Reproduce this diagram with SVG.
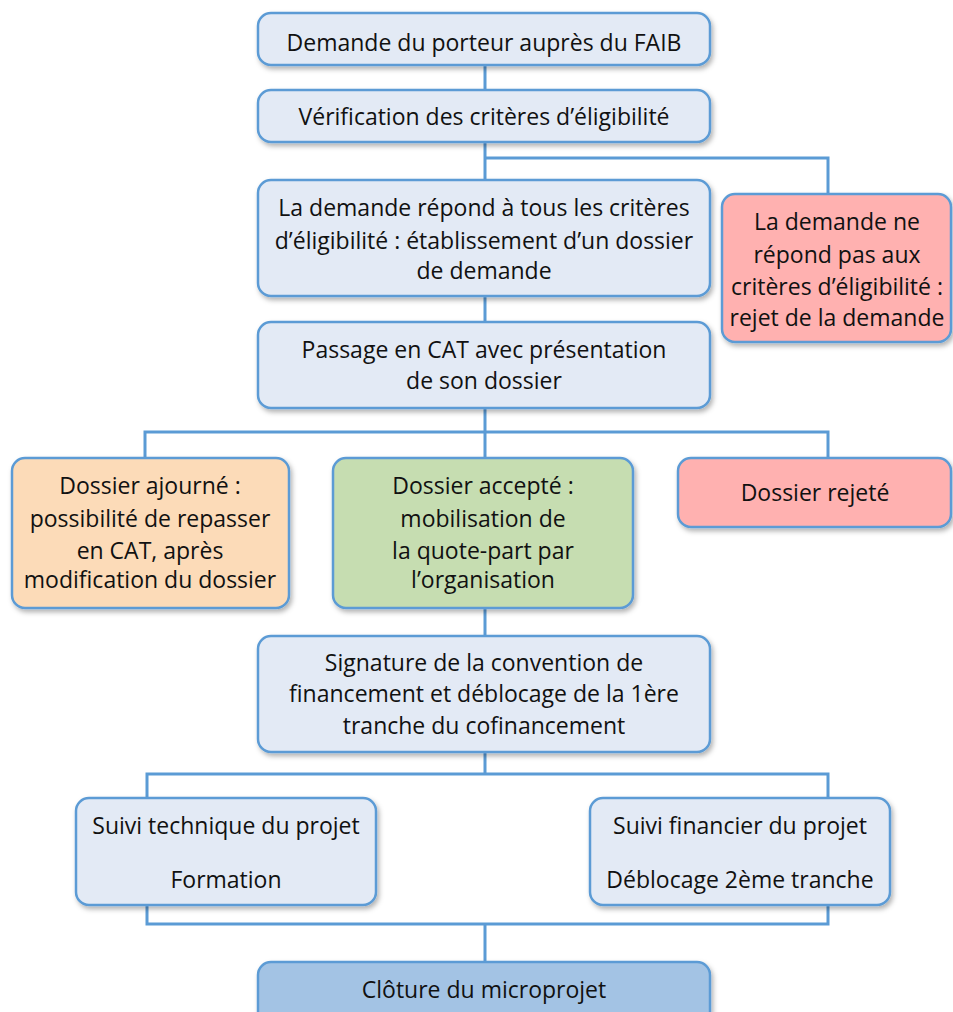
<svg xmlns="http://www.w3.org/2000/svg" width="953" height="1012" viewBox="0 0 953 1012">
<defs>
<filter id="sh" x="-10%" y="-10%" width="125%" height="140%">
<feDropShadow dx="2" dy="3" stdDeviation="2.5" flood-color="#000" flood-opacity="0.3"/>
</filter>
<style>
.b{stroke:#5B9BD5;stroke-width:2.5;filter:url(#sh)}
.n{fill:#E3EAF5}
.r{fill:#FFB1B0}
.o{fill:#FCDBB8}
.g{fill:#C6DDB1}
.d{fill:#A3C3E4}
.c{fill:none;stroke:#5B9BD5;stroke-width:3}
text{font-family:"Open Sans","Noto Sans",sans-serif;font-size:23px;fill:#111;text-anchor:middle}
</style>
</defs>
<rect width="953" height="1012" fill="#fff"/>
<g id="connectors">
<path class="c" d="M485 65V90M485 142V180M485 158H828V195M485 296V322M485 408V458M145 458V432H828V458M485 608V636M485 752V774M147 798V774H828V798M147 905V924H828V905M485 924V962"/>
</g>
<g id="n1"><rect class="b n" x="258" y="13" width="452" height="52" rx="13"/><text x="484" y="51">Demande du porteur auprès du FAIB</text></g>
<g id="n2"><rect class="b n" x="258" y="90" width="452" height="52" rx="13"/><text x="484" y="125">Vérification des critères d’éligibilité</text></g>
<g id="n3"><rect class="b n" x="258" y="180" width="452" height="116" rx="13"/><text x="484" y="216">La demande répond à tous les critères</text><text x="484" y="249">d’éligibilité : établissement d’un dossier</text><text x="484" y="279">de demande</text></g>
<g id="n4"><rect class="b r" x="722" y="194" width="229" height="148" rx="13"/><text x="837" y="230">La demande ne</text><text x="837" y="263">répond pas aux</text><text x="837" y="295">critères d’éligibilité :</text><text x="837" y="326">rejet de la demande</text></g>
<g id="n5"><rect class="b n" x="258" y="322" width="452" height="86" rx="13"/><text x="484" y="358">Passage en CAT avec présentation</text><text x="484" y="389">de son dossier</text></g>
<g id="n6"><rect class="b o" x="12" y="458" width="277" height="150" rx="13"/><text x="150" y="494">Dossier ajourné :</text><text x="150" y="527">possibilité de repasser</text><text x="150" y="559">en CAT, après</text><text x="150" y="588">modification du dossier</text></g>
<g id="n7"><rect class="b g" x="333" y="458" width="300" height="150" rx="13"/><text x="483" y="494">Dossier accepté :</text><text x="483" y="527">mobilisation de</text><text x="483" y="559">la quote-part par</text><text x="483" y="588">l’organisation</text></g>
<g id="n8"><rect class="b r" x="678" y="458" width="273" height="69" rx="13"/><text x="815" y="501">Dossier rejeté</text></g>
<g id="n9"><rect class="b n" x="258" y="636" width="452" height="116" rx="13"/><text x="484" y="671">Signature de la convention de</text><text x="484" y="702">financement et déblocage de la 1ère</text><text x="484" y="734">tranche du cofinancement</text></g>
<g id="n10"><rect class="b n" x="76" y="798" width="300" height="107" rx="13"/><text x="226" y="834">Suivi technique du projet</text><text x="226" y="888">Formation</text></g>
<g id="n11"><rect class="b n" x="590" y="798" width="300" height="107" rx="13"/><text x="740" y="834">Suivi financier du projet</text><text x="740" y="888">Déblocage 2ème tranche</text></g>
<g id="n12"><rect class="b d" x="258" y="962" width="452" height="70" rx="13"/><text x="484" y="998">Clôture du microprojet</text></g>
</svg>
